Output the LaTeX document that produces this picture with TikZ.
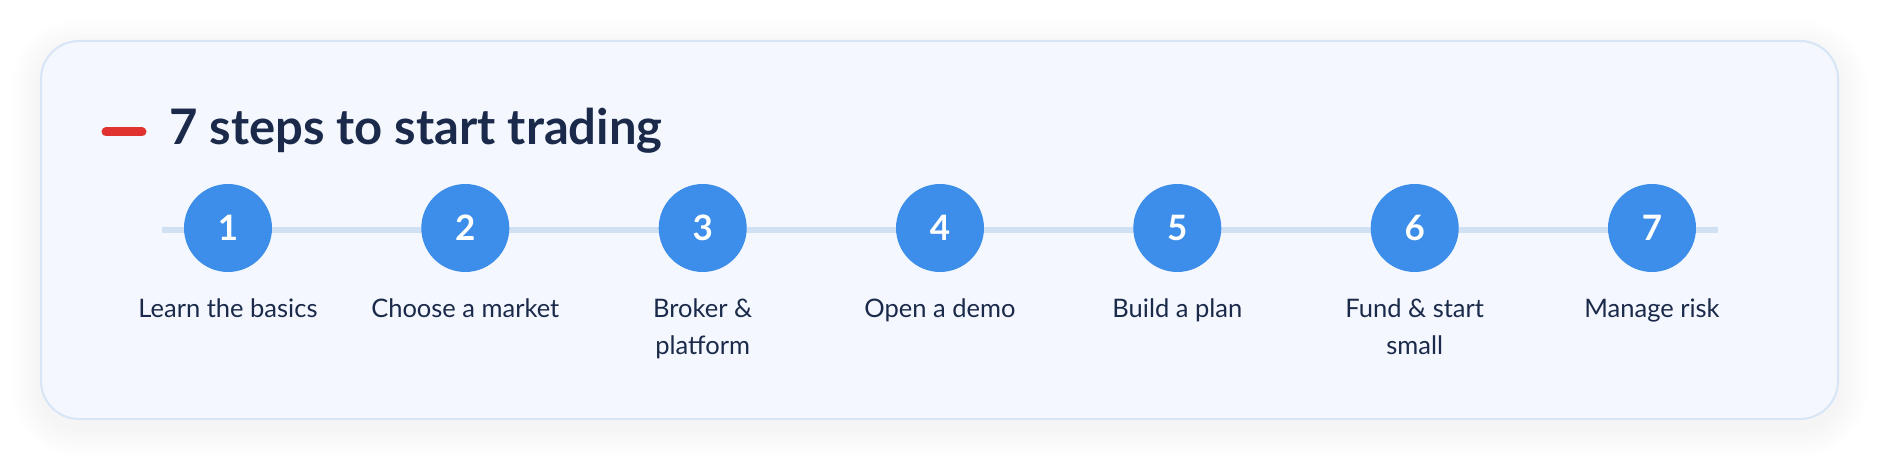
\documentclass[tikz,border=0pt]{standalone}
\usepackage{fontspec}
\setmainfont{Lato}
\usetikzlibrary{positioning}
\definecolor{cardfill}{HTML}{F4F8FE}
\definecolor{cardline}{HTML}{D8E5F6}
\definecolor{stepblue}{HTML}{3D8EEA}
\definecolor{railblue}{HTML}{D0E1F4}
\definecolor{navy}{HTML}{1B2A4A}
\definecolor{dashred}{HTML}{E0332F}
\tikzset{
  stepdot/.style={circle,fill=stepblue,minimum size=88pt,inner sep=0pt,text=white,
    font=\fontsize{35}{35}\selectfont\bfseries},
  steplabel/.style={align=center,inner sep=0pt,text=navy,font=\fontsize{25.5}{37}\selectfont},
  rail/.style={draw=railblue,line width=6pt}
}

\begin{document}
\begin{tikzpicture}[x=1pt,y=-1pt]
\useasboundingbox (0,0) rectangle (1880,462);
\fill[white] (0,0) rectangle (1880,462);
% soft shadow under the card
\foreach \k in {1,...,10}
  \fill[black,opacity=0.0035,rounded corners=38pt+3*\k pt]
    (41-3*\k,49-3*\k) rectangle (1838+3*\k,427+3*\k);
% card
\draw[cardline,fill=cardfill,line width=2pt,rounded corners=38pt] (41,41) rectangle (1838,419);
%
\draw[dashred,line width=9pt,line cap=round] (106,132) -- (142,132);
\node [anchor=base west,inner sep=0pt,text=navy,font=\fontsize{49}{49}\selectfont\bfseries] at (169,145) (title) {7 steps to start trading};
%
\coordinate (rail west) at (162,230);
\coordinate (rail east) at (1718,230);
\path[rail] (rail west) edge (rail east);
%
      \node [stepdot] at (228,228) (s1) {1};
        \node [stepdot] at (465.3,228) (s2) {2};
          \node [stepdot] at (702.7,228) (s3) {3};
            \node [stepdot] at (940,228) (s4) {4};
              \node [stepdot] at (1177.3,228) (s5) {5};
                \node [stepdot] at (1414.7,228) (s6) {6};
                  \node [stepdot] at (1652,228) (s7) {7};
%
\node [steplabel,below=26pt of s1] (learn) {Learn the basics};
\node [steplabel,below=26pt of s2] (market) {Choose a market};
\node [steplabel,below=26pt of s3] (broker) {Broker \&\\platform};
\node [steplabel,below=26pt of s4] (demo) {Open a demo};
\node [steplabel,below=26pt of s5] (plan) {Build a plan};
\node [steplabel,below=26pt of s6] (fund) {Fund \& start\\small};
\node [steplabel,below=26pt of s7] (risk) {Manage risk};
\end{tikzpicture}
\end{document}
